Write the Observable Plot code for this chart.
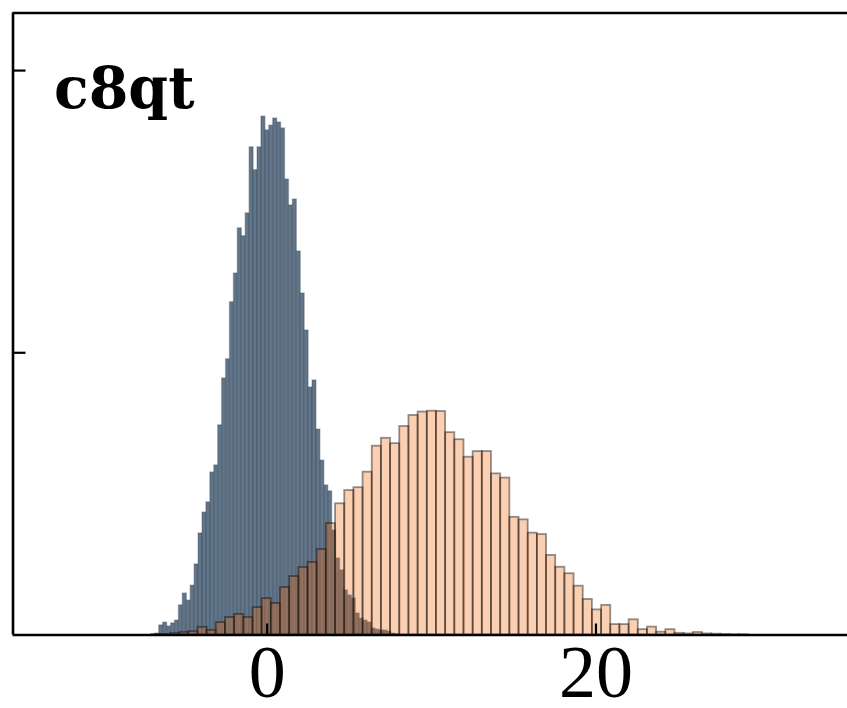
<!DOCTYPE html>
<html>
<head>
<meta charset="utf-8">
<script src="https://cdn.jsdelivr.net/npm/d3@7"></script>
<script src="https://cdn.jsdelivr.net/npm/@observablehq/plot@0.6"></script>
<style>
  html, body { margin: 0; padding: 0; background: #fff; }
  #chart svg { display: block; }
</style>
</head>
<body>
<div id="chart"></div>
<script>
// Panel label
const panelLabel = "c8qt";

// Axis ticks
const xTicks = [0, 20];
const yTicks = [0.1, 0.2];
const xDomain = [-15.46, 35.3];
const yDomain = [0, 0.2204];

// Narrow-binned distribution (slate): first bin edge, bin width, density per bin
const blueStart = -7.04;
const blueWidth = 0.239;
const blueDensity = [
  0.0002, 0.0005, 0.0034, 0.0044, 0.0030, 0.0041, 0.0051, 0.0105, 0.0147, 0.0122,
  0.0175, 0.0250, 0.0360, 0.0434, 0.0470, 0.0576, 0.0601, 0.0743, 0.0909, 0.0977,
  0.1179, 0.1281, 0.1441, 0.1413, 0.1494, 0.1728, 0.1647, 0.1728, 0.1837, 0.1788,
  0.1805, 0.1830, 0.1816, 0.1795, 0.1614, 0.1522, 0.1543, 0.1359, 0.1210, 0.1079,
  0.0877, 0.0902, 0.0728, 0.0618, 0.0530, 0.0509, 0.0370, 0.0271, 0.0229, 0.0158,
  0.0140, 0.0129, 0.0076, 0.0058, 0.0051, 0.0044, 0.0023, 0.0019, 0.0016, 0.0016,
  0.0012, 0.0005, 0.0002
];

// Wide-binned distribution (peach): first bin edge, bin width, density per bin
const orangeStart = -7.0;
const orangeWidth = 0.558;
const orangeDensity = [
  0.0001, 0.0002, 0.0005, 0.0009, 0.0012, 0.0027, 0.0016, 0.0044, 0.0062, 0.0073,
  0.0062, 0.0097, 0.0129, 0.0112, 0.0168, 0.0207, 0.0239, 0.0257, 0.0303, 0.0395,
  0.0465, 0.0512, 0.0522, 0.0577, 0.0669, 0.0697, 0.0678, 0.0739, 0.0778, 0.0790,
  0.0793, 0.0792, 0.0717, 0.0692, 0.0630, 0.0650, 0.0650, 0.0571, 0.0556, 0.0417,
  0.0408, 0.0361, 0.0356, 0.0282, 0.0240, 0.0217, 0.0173, 0.0126, 0.0089, 0.0105,
  0.0037, 0.0037, 0.0054, 0.0019, 0.0028, 0.0010, 0.0019, 0.0006, 0.0004, 0.0009,
  0.0004, 0.0003, 0.0002, 0.0001, 0.0001
];

const toBins = (start, width, values) =>
  values.map((d, i) => ({x1: start + i * width, x2: start + (i + 1) * width, y: d}));

const blueBins = toBins(blueStart, blueWidth, blueDensity);
const orangeBins = toBins(orangeStart, orangeWidth, orangeDensity);

const chart = Plot.plot({
  width: 847,
  height: 708,
  marginLeft: 12.5,
  marginRight: 0,
  marginTop: 12.5,
  marginBottom: 73.5,
  style: {background: "#fff"},
  x: {domain: xDomain},
  y: {domain: yDomain},
  marks: [
    Plot.rectY(blueBins, {
      x1: "x1", x2: "x2", y: "y",
      fill: "#5b6f83", fillOpacity: 0.95,
      stroke: "#2c3e50", strokeOpacity: 0.3, strokeWidth: 1.4
    }),
    Plot.rectY(orangeBins, {
      x1: "x1", x2: "x2", y: "y",
      fill: "#f26a10", fillOpacity: 0.32,
      stroke: "#000", strokeOpacity: 0.42, strokeWidth: 1.8
    }),
    // frame: left, top and bottom spines
    Plot.ruleX([xDomain[0]], {stroke: "#000", strokeWidth: 2.6}),
    Plot.ruleY([yDomain[1]], {stroke: "#000", strokeWidth: 2.6}),
    Plot.ruleY([0], {stroke: "#000", strokeWidth: 2.6}),
    Plot.axisX({
      ticks: xTicks,
      tickSize: -11,
      tickPadding: 20,
      strokeWidth: 2.2,
      fontSize: 74,
      fontFamily: "Liberation Serif",
      fill: "#000",
      label: null
    }),
    Plot.axisY({
      ticks: yTicks,
      tickSize: -13,
      strokeWidth: 2.2,
      tickFormat: () => "",
      label: null
    }),
    Plot.text([panelLabel], {
      frameAnchor: "top-left",
      dx: 41,
      dy: 94.5,
      lineAnchor: "bottom",
      textAnchor: "start",
      fontSize: 57,
      fontWeight: "bold",
      fontFamily: "DejaVu Serif",
      fill: "#000"
    })
  ]
});

document.getElementById("chart").append(chart);
</script>
</body>
</html>
